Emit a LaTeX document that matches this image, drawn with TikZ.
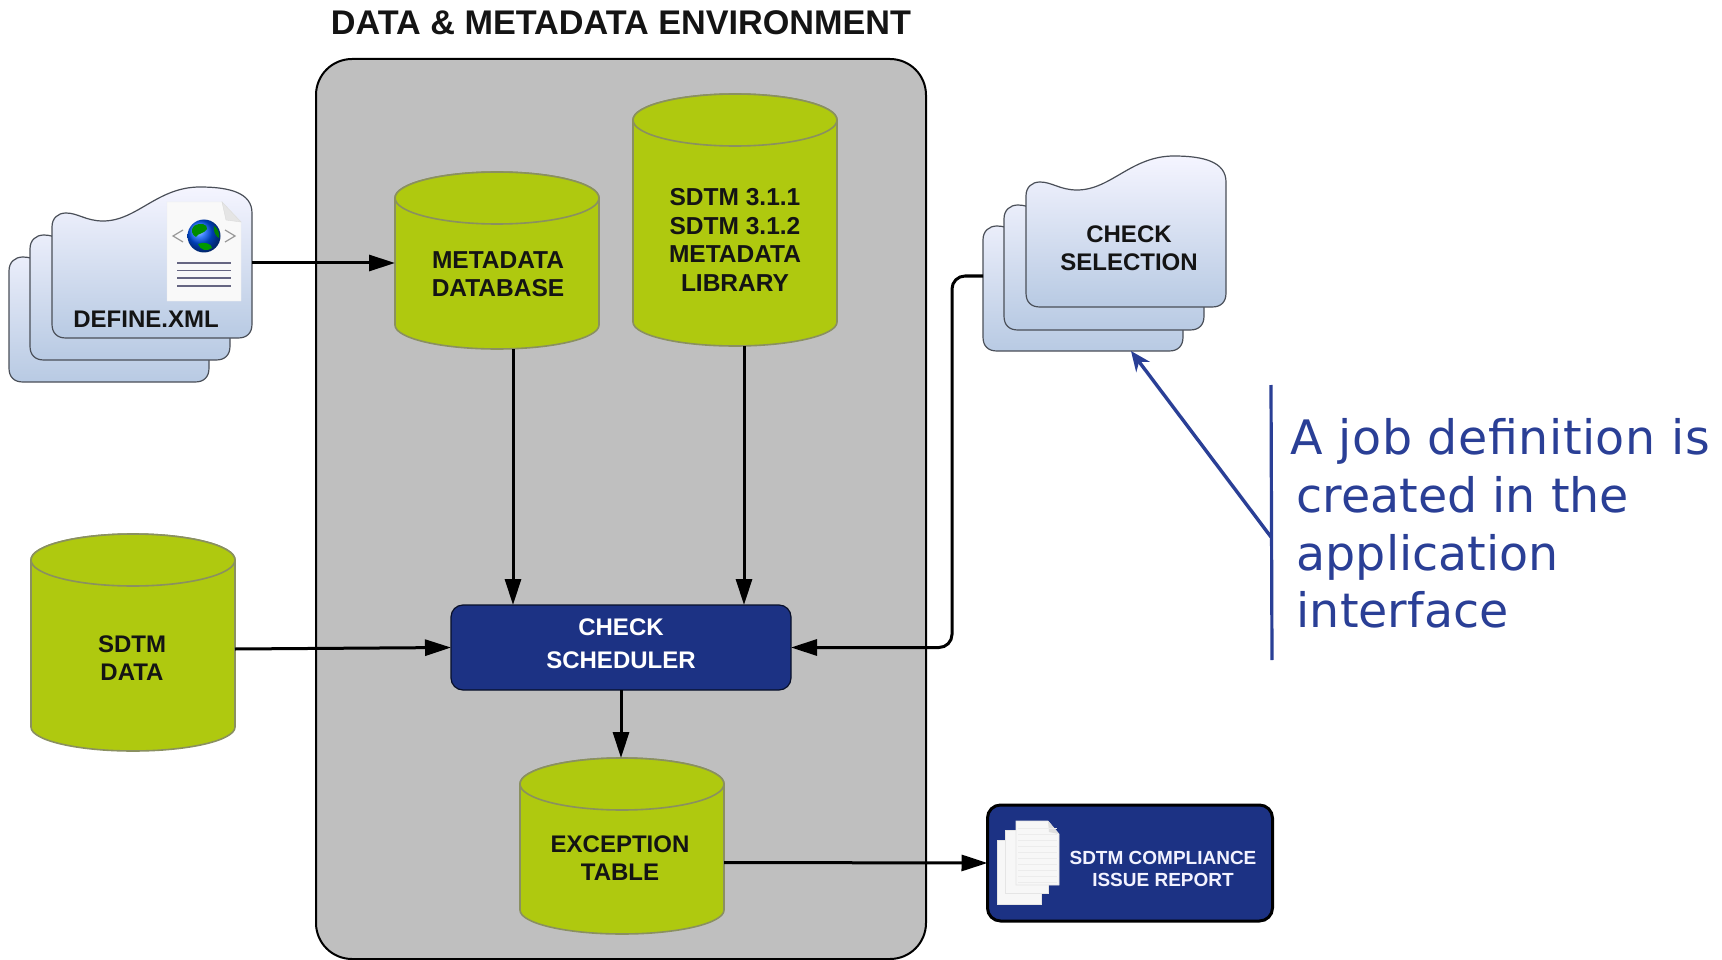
\documentclass[tikz,border=0pt]{standalone}
\usepackage{fontspec}
\setmainfont{Liberation Sans}
\newfontfamily\verd{DejaVu Sans}
\usetikzlibrary{arrows.meta,shadings,calc}
\definecolor{olive}{HTML}{AFC90F}
\definecolor{rim}{HTML}{8A9060}
\definecolor{navy}{HTML}{1C3284}
\definecolor{jobblue}{HTML}{2A3F96}
\definecolor{docedge}{HTML}{4A4F58}
\definecolor{docbot}{HTML}{B8CAE3}
\tikzset{
  x=1pt,y=-1pt,
  conn/.style={line width=3pt,draw=black,-{Triangle[length=26pt,width=16pt]}},
  lbl/.style={font=\bfseries\fontsize{24}{28.5}\selectfont,align=center,text=black!92},
  widelbl/.style={font=\bfseries\fontsize{24.5}{28.5}\selectfont,align=center,text=black!92},
  whitelbl/.style={font=\bfseries\fontsize{24}{33}\selectfont,align=center,text=white},
  repolbl/.style={font=\bfseries\fontsize{19}{22}\selectfont,align=center,text=white!95!blue},
  doc/.style={draw=docedge,line width=1.2pt,top color=white!96!blue,bottom color=docbot},
  page/.style={fill=white!94!gray,draw=white!80!gray,line width=.6pt},
  cylshape/.style={fill=olive,draw=rim,line width=1.6pt},
}
\newcommand{\docshape}[2]{%
  \path[doc,shift={(#1,#2)}] (0,-14) -- (0,-111) .. controls (0,-120) and (6,-125) .. (14,-125)
    .. controls (26,-125) and (34,-117) .. (51,-117)
    .. controls (85,-117) and (105,-151) .. (148,-151)
    .. controls (178,-151) and (200,-145) .. (200,-125)
    -- (200,-14) .. controls (200,-5) and (195,0) .. (186,0) -- (14,0)
    .. controls (5,0) and (0,-5) .. (0,-14) -- cycle;}
\newcommand{\cyl}[4]{% name, cx, top, bottom
  \path[cylshape] (#2-102,#3+26) -- (#2-102,#4-24)
    arc[start angle=180,end angle=0,x radius=102,y radius=24]
    -- (#2+102,#3+26)
    arc[start angle=0,end angle=-180,x radius=102,y radius=26] -- cycle;
  \path[cylshape] (#2,#3+26) ellipse[x radius=102,y radius=26];
  \node[inner sep=0pt,outer sep=0pt,minimum width=204pt,minimum height=#4pt-#3pt] (#1) at (#2,{(#3+#4)/2}) {};}
\begin{document}
\begin{tikzpicture}
\useasboundingbox[fill=white] (0,0) rectangle (1722,960);
% panel
\path[fill=black!25,draw=black,line width=2pt,rounded corners=36pt] (316,59) rectangle (926,959);
\node[inner sep=0pt] (panel) at (621,510) {};
\node[font=\bfseries\fontsize{34.2}{38}\selectfont,text=black!92] (title) at (621,23) {DATA \& METADATA ENVIRONMENT};
% cylinders
\cyl{meta}{497}{172}{349}
\cyl{lib}{735}{94}{346}
\cyl{sdtm}{133}{534}{751}
\cyl{exc}{622}{758}{934}
\node[widelbl] (metaT) at (498,274) {METADATA\\DATABASE};
\node[widelbl] (libT) at (735,240) {SDTM 3.1.1\\SDTM 3.1.2\\METADATA\\LIBRARY};
\node[lbl] (sdtmT) at (132,658) {SDTM\\DATA};
\node[lbl] (excT) at (620,858) {EXCEPTION\\TABLE};
% define stack
\docshape{9}{382}\docshape{30}{360}\docshape{52}{338}
\node[inner sep=0pt,outer sep=0pt,minimum width=200pt,minimum height=125pt] (define) at (152,275.5) {};
\node[lbl] (defineT) at (146,319.5) {DEFINE.XML};
% xml page icon
\path[fill=white!95!gray,draw=white!85!gray] (167,202) -- (222,202) -- (241,222) -- (241,301) -- (167,301) -- cycle;
\path[fill=white!80!gray,draw=white!72!gray] (222,202) -- (241,222) -- (226,220) -- cycle;
\foreach \yy in {263,270.5,278,286} \draw[line width=1.3pt,draw=black!45!blue!20!gray] (177,\yy) -- (231,\yy);
\draw[line width=1.2pt,draw=black!40] (183,230) -- (173,236) -- (183,242);
\draw[line width=1.2pt,draw=black!40] (225,230) -- (235,236) -- (225,242);
\shade[ball color=blue!65!cyan] (204,236) circle[radius=16.5];
\path[fill=green!55!black] (194,226) .. controls (200,222) and (208,224) .. (207,229) .. controls (204,234) and (198,233) .. (196,237) .. controls (192,235) and (190,230) .. (194,226) -- cycle;
\path[fill=green!60!black] (198,244) .. controls (204,241) and (212,244) .. (212,248) .. controls (207,252) and (200,250) .. (198,244) -- cycle;
\path[fill=green!50!black] (214,226) .. controls (218,228) and (220,234) .. (219,238) .. controls (215,236) and (213,230) .. (214,226) -- cycle;
% selection stack
\docshape{983}{351}\docshape{1004}{330}\docshape{1026}{307}
\node[inner sep=0pt,outer sep=0pt,minimum width=200pt,minimum height=124pt] (selback) at (1083,289) {};
\node[lbl] (selT) at (1129,248) {CHECK\\SELECTION};
% scheduler
\node[draw=black!70!navy,fill=navy,line width=1.2pt,rounded corners=12pt,minimum width=340pt,minimum height=85pt,inner sep=0pt,outer sep=0pt] (sched) at (621,647.5) {};
\node[whitelbl] (schedT) at (621,644) {CHECK\\SCHEDULER};
% report
\node[draw=black,fill=navy,line width=3pt,rounded corners=13pt,minimum width=285pt,minimum height=116pt,inner sep=0pt,outer sep=0pt] (report) at (1130,863) {};
\node[repolbl] (reportT) at (1163,869) {SDTM COMPLIANCE\\ISSUE REPORT};
\path[page] (997,840) rectangle (1041,904);
\path[page] (1005,830) rectangle (1048,893);
\path[page] (1016,821) -- (1048,821) -- (1059,834) -- (1059,885) -- (1016,885) -- cycle;
\path[fill=white!75!gray] (1048,821) -- (1059,834) -- (1049,832) -- cycle;
\foreach \yy in {828,834,...,882} \draw[line width=.3pt,draw=white!85!gray] (1018,\yy) -- (1057,\yy);
% connectors
\draw[conn] ([yshift=12.5pt]define.east) -- ([yshift=-2.5pt]meta.west);
\draw[conn] ([xshift=16pt]meta.south) -- ([xshift=-108pt]sched.north);
\draw[conn] ([xshift=9pt]lib.south) -- ([xshift=123pt]sched.north);
\draw[conn] ([yshift=-6.5pt]sdtm.east) -- (sched.west);
\draw[conn,rounded corners=13pt] ([yshift=13pt]selback.west) -- ++(-31,0) |- (sched.east);
\draw[conn] (sched.south) -- ([xshift=-1pt]exc.north);
\draw[conn] ([yshift=-16.5pt]exc.east) -- (report.west);
% job note
\coordinate (barTop) at (1271,385);
\coordinate (barBot) at (1272,660);
\coordinate (barMid) at (1271,537);
\draw[line width=3.2pt,draw=jobblue] (barTop) -- (barBot);
\draw[line width=3.4pt,draw=jobblue,-{Stealth[length=20pt,width=17pt]}] (barMid) -- ([xshift=48pt]selback.south);
\node[font=\verd\fontsize{47.5}{57.7}\selectfont,text=jobblue,align=left,anchor=north west,inner sep=0pt] (job) at (1296.5,418.5) {\hspace*{-6pt}{\addfontfeature{LetterSpace=1.1}A job definition is}\\created in the\\application\\interface};
\end{tikzpicture}
\end{document}
